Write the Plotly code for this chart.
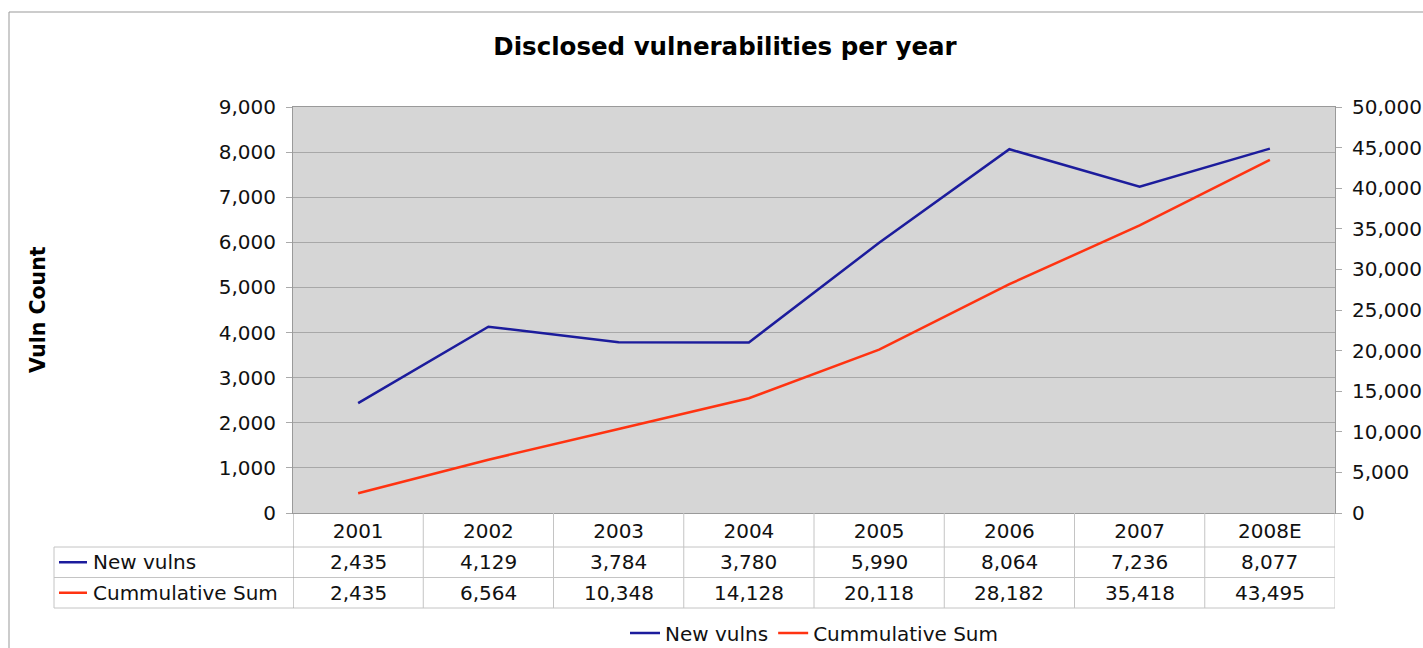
import plotly.graph_objects as go

# Data
years = ["2001", "2002", "2003", "2004", "2005", "2006", "2007", "2008E"]
new_vulns = [2435, 4129, 3784, 3780, 5990, 8064, 7236, 8077]
cumulative = [2435, 6564, 10348, 14128, 20118, 28182, 35418, 43495]
series_names = ["New vulns", "Cummulative Sum"]
series_colors = ["#1c1c9c", "#ff3311"]

W, H = 1423, 648
ML, MR, MT, MB = 293, 88, 107, 135
PW, PH = W - ML - MR, H - MT - MB
FONT = "DejaVu Sans"


def px_x(p):
    return (p - ML) / PW


def px_y(p):
    return (MT + PH - p) / PH


fig = go.Figure()
fig.add_trace(go.Scatter(x=years, y=new_vulns, name=series_names[0], mode="lines",
                         line=dict(color=series_colors[0], width=2.5), yaxis="y"))
fig.add_trace(go.Scatter(x=years, y=cumulative, name=series_names[1], mode="lines",
                         line=dict(color=series_colors[1], width=2.5), yaxis="y2"))

shapes = []
annotations = []
grid_c = "#c4c4c4"
axis_c = "#9a9a9a"

# Data table under the plot: row boundaries in pixels
row_top, row_mid, row_bot = 547, 577.5, 608
tbl_left = 54
for yy in (row_top, row_mid, row_bot):
    shapes.append(dict(type="line", xref="paper", yref="paper", x0=px_x(tbl_left), x1=1,
                       y0=px_y(yy), y1=px_y(yy), line=dict(color=grid_c, width=1), layer="above"))
shapes.append(dict(type="line", xref="paper", yref="paper", x0=px_x(tbl_left), x1=px_x(tbl_left),
                   y0=px_y(row_top), y1=px_y(row_bot), line=dict(color=grid_c, width=1)))
for i in range(len(years) + 1):
    col = axis_c if i == 0 else grid_c
    shapes.append(dict(type="line", xref="x", yref="paper", x0=i - 0.5, x1=i - 0.5,
                       y0=0, y1=px_y(row_bot), line=dict(color=col, width=1)))

rows = [new_vulns, cumulative]
row_centers = [(row_top + row_mid) / 2, (row_mid + row_bot) / 2]
for r, (vals, yc) in enumerate(zip(rows, row_centers)):
    for i, v in enumerate(vals):
        annotations.append(dict(x=i, y=px_y(yc), xref="x", yref="paper",
                                xanchor="center", yanchor="middle",
                                text=f"{v:,}", showarrow=False,
                                font=dict(family=FONT, size=20, color="#111")))
    # series key line and label
    shapes.append(dict(type="line", xref="paper", yref="paper", x0=px_x(59), x1=px_x(87),
                       y0=px_y(yc), y1=px_y(yc), line=dict(color=series_colors[r], width=2.5)))
    annotations.append(dict(x=px_x(91), y=px_y(yc), xref="paper", yref="paper",
                            xanchor="left", yanchor="middle", text=series_names[r],
                            showarrow=False, font=dict(family=FONT, size=20, color="#111")))

# Outer chart frame (top and left edges)
shapes.append(dict(type="line", xref="paper", yref="paper", x0=px_x(9), x1=px_x(W + 5),
                   y0=px_y(12), y1=px_y(12), line=dict(color="#999", width=1)))
shapes.append(dict(type="line", xref="paper", yref="paper", x0=px_x(9), x1=px_x(9),
                   y0=px_y(12), y1=px_y(H + 5), line=dict(color="#999", width=1)))

# Vertical axis title
annotations.append(dict(x=px_x(38), y=px_y(310), xref="paper", yref="paper",
                        xanchor="center", yanchor="middle",
                        text="<b>Vuln Count</b>", textangle=-90, showarrow=False,
                        font=dict(family=FONT, size=20.5, color="#000")))

fig.update_layout(
    width=W, height=H,
    margin=dict(l=ML, r=MR, t=MT, b=MB, autoexpand=False),
    paper_bgcolor="white",
    plot_bgcolor="#d6d6d6",
    font=dict(family=FONT, size=20, color="#111"),
    title=dict(text="<b>Disclosed vulnerabilities per year</b>", x=725 / W, xanchor="center",
               y=1 - 46 / H, yanchor="middle", font=dict(family=FONT, size=24.5, color="#000")),
    xaxis=dict(type="category", range=[-0.5, len(years) - 0.5], showgrid=False,
               showline=True, linecolor=axis_c, mirror=True, ticks="",
               tickfont=dict(family=FONT, size=20, color="#111")),
    yaxis=dict(range=[0, 9000], dtick=1000, tickformat=",d", showgrid=True,
               gridcolor="#a8a8a8", gridwidth=1, zeroline=False,
               showline=True, linecolor=axis_c, mirror=True,
               ticks="outside", ticklen=6, tickcolor="#aaa", ticklabelstandoff=6,
               tickfont=dict(family=FONT, size=20, color="#111")),
    yaxis2=dict(range=[0, 50000], dtick=5000, tickformat=",d", overlaying="y", side="right",
                showgrid=False, zeroline=False, showline=False,
                ticks="outside", ticklen=6, tickcolor="#aaa", ticklabelstandoff=6,
                tickfont=dict(family=FONT, size=20, color="#111")),
    legend=dict(orientation="h", x=0.5, xanchor="center", y=px_y(633), yanchor="middle",
                font=dict(family=FONT, size=20, color="#111"), bgcolor="rgba(0,0,0,0)"),
    shapes=shapes,
    annotations=annotations,
)

fig.write_html("out.html")
